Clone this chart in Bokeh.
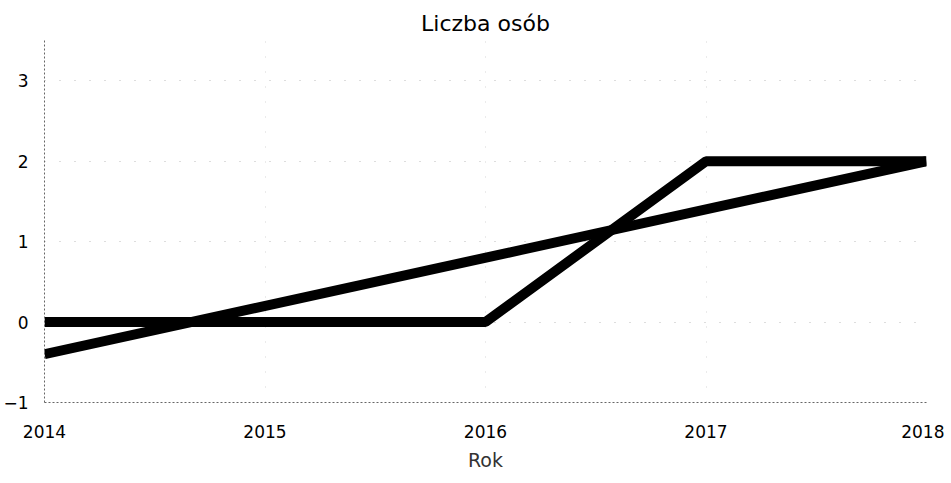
from bokeh.plotting import figure
from bokeh.models import Range1d, FixedTicker
from bokeh.embed import file_html
from bokeh.resources import INLINE

years = [2014, 2015, 2016, 2017, 2018]
counts = [0, 0, 0, 2, 2]
trend_years = [2014, 2018]
trend_values = [-0.4, 2.0]
y_ticks = [-1, 0, 1, 2, 3]

FONT = "DejaVu Sans"

p = figure(frame_width=882, frame_height=362, output_backend="svg", toolbar_location=None,
           x_range=Range1d(2014, 2018), y_range=Range1d(-1, 3.5),
           min_border_left=35, min_border_right=18, min_border_top=40, min_border_bottom=60)
p.outline_line_color = None

p.title.text = "Liczba osób"
p.title.align = "center"
p.title.text_font = FONT
p.title.text_font_size = "22px"
p.title.text_font_style = "normal"
p.title.text_color = "#000000"
p.title.offset = -10

p.line(years, counts, line_width=10, line_color="black")
p.line(trend_years, trend_values, line_width=10, line_color="black")

p.xaxis.ticker = FixedTicker(ticks=years)
p.yaxis.ticker = FixedTicker(ticks=y_ticks)
p.xaxis.axis_label = "Rok"
p.xaxis.axis_label_text_font = FONT
p.xaxis.axis_label_text_font_size = "19px"
p.xaxis.axis_label_text_font_style = "normal"
p.xaxis.axis_label_text_color = "#333333"
p.xaxis.axis_label_standoff = 8

for ax in (p.xaxis, p.yaxis):
    ax.major_label_text_font = FONT
    ax.major_label_text_font_size = "17px"
    ax.major_label_text_color = "#000000"
    ax.major_tick_line_color = None
    ax.minor_tick_line_color = None
    ax.axis_line_color = "#666666"
    ax.axis_line_dash = "2 2"
    ax.axis_line_width = 1

p.xaxis.major_label_standoff = 16
p.yaxis.major_label_standoff = 10

p.xgrid.grid_line_color = "#bbbbbb"
p.xgrid.grid_line_dash = "1 14"
p.ygrid.grid_line_color = "#aaaaaa"
p.ygrid.grid_line_dash = "1 14"
p.xgrid.grid_line_alpha = 0.6
p.ygrid.grid_line_alpha = 0.8

open("out.html", "w").write(file_html(p, INLINE))
